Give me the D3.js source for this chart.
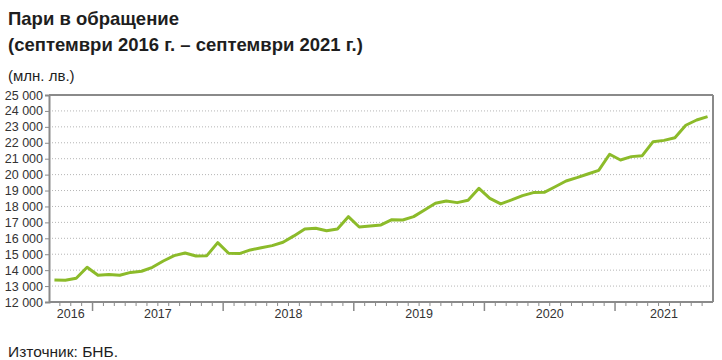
<!DOCTYPE html>
<html lang="bg">
<head>
<meta charset="utf-8">
<script src="https://cdn.jsdelivr.net/npm/d3@7"></script>
<style>
  html, body { margin: 0; padding: 0; background: #fff; }
  svg { display: block; font-family: "Liberation Sans", Arial, sans-serif; }
</style>
</head>
<body>
<svg id="chart" width="722" height="360"></svg>
<script>
// ---- data ----
const months = [
  "2016-09","2016-10","2016-11","2016-12",
  "2017-01","2017-02","2017-03","2017-04","2017-05","2017-06","2017-07","2017-08","2017-09","2017-10","2017-11","2017-12",
  "2018-01","2018-02","2018-03","2018-04","2018-05","2018-06","2018-07","2018-08","2018-09","2018-10","2018-11","2018-12",
  "2019-01","2019-02","2019-03","2019-04","2019-05","2019-06","2019-07","2019-08","2019-09","2019-10","2019-11","2019-12",
  "2020-01","2020-02","2020-03","2020-04","2020-05","2020-06","2020-07","2020-08","2020-09","2020-10","2020-11","2020-12",
  "2021-01","2021-02","2021-03","2021-04","2021-05","2021-06","2021-07","2021-08","2021-09"
];
const currency = [
  13380, 13360, 13490, 14180,
  13680, 13720, 13680, 13860, 13930, 14180, 14575, 14910, 15080, 14890, 14910, 15730,
  15060, 15040, 15270, 15410, 15540, 15750, 16150, 16590, 16630, 16480, 16590, 17360,
  16710, 16770, 16840, 17170, 17150, 17360, 17780, 18200, 18340, 18240, 18390, 19140,
  18510, 18160, 18410, 18680, 18870, 18890, 19240, 19600, 19810, 20040, 20270, 21280,
  20920, 21130, 21190, 22070, 22150, 22320, 23100, 23430, 23640
];
const yearLabels = ["2016", "2017", "2018", "2019", "2020", "2021"];
const yTicks = [12000,13000,14000,15000,16000,17000,18000,19000,20000,21000,22000,23000,24000,25000];
const titleLines = ["Пари в обращение", "(септември 2016 г. – септември 2021 г.)"];
const unitLabel = "(млн. лв.)";
const sourceLabel = "Източник: БНБ.";

// ---- layout ----
const svg = d3.select("#chart");
const L = 49, R = 713, T = 95, B = 302;
const axisColor = "#8a8a8a";
const textColor = "#1e1e1e";

const x = d3.scaleBand().domain(months).range([L, R]).paddingInner(0).paddingOuter(0);
const y = d3.scaleLinear().domain([12000, 25000]).range([B, T]);

// titles
svg.append("text").attr("x", 8).attr("y", 25)
  .attr("font-size", 18.5).attr("font-weight", "bold").attr("fill", textColor)
  .text(titleLines[0]);
svg.append("text").attr("x", 8).attr("y", 51)
  .attr("font-size", 18.5).attr("font-weight", "bold").attr("fill", textColor)
  .text(titleLines[1]);
svg.append("text").attr("x", 8).attr("y", 81)
  .attr("font-size", 15).attr("fill", textColor)
  .text(unitLabel);

// gridlines (dotted)
svg.append("g").selectAll("line")
  .data(yTicks.filter(d => d > 12000 && d < 25000))
  .join("line")
  .attr("x1", L).attr("x2", R)
  .attr("y1", d => y(d)).attr("y2", d => y(d))
  .attr("stroke", "#b5b5b5").attr("stroke-width", 1)
  .attr("stroke-dasharray", "1,2");

// frame top & right
svg.append("line").attr("x1", L).attr("x2", R).attr("y1", T).attr("y2", T)
  .attr("stroke", axisColor).attr("stroke-width", 2);
svg.append("line").attr("x1", R).attr("x2", R).attr("y1", T).attr("y2", B)
  .attr("stroke", axisColor).attr("stroke-width", 2);

// y axis
const yAxis = d3.axisLeft(y).tickValues(yTicks).tickSize(4).tickPadding(2)
  .tickFormat(d => d3.format(",")(d).replace(",", " "));
const gy = svg.append("g").attr("transform", `translate(${L},0)`).call(yAxis);
gy.select(".domain").attr("stroke", axisColor).attr("stroke-width", 2);
gy.selectAll(".tick line").attr("stroke", axisColor).attr("stroke-width", 1);
gy.selectAll(".tick text").attr("font-size", 12.5).attr("fill", "#333")
  .attr("font-family", "'Liberation Sans', Arial, sans-serif");

// x axis: monthly boundary ticks, longer at year boundaries
const gx = svg.append("g");
gx.append("line").attr("x1", L).attr("x2", R).attr("y1", B).attr("y2", B)
  .attr("stroke", axisColor).attr("stroke-width", 2);
gx.selectAll("line.tk")
  .data(months.slice(1))
  .join("line")
  .attr("class", "tk")
  .attr("x1", m => x(m)).attr("x2", m => x(m))
  .attr("y1", B)
  .attr("y2", m => m.endsWith("-01") ? B + 9 : B + 4)
  .attr("stroke", axisColor)
  .attr("stroke-width", m => m.endsWith("-01") ? 1.5 : 1);

// year labels centered under each year's months
gx.selectAll("text.yr")
  .data(yearLabels)
  .join("text")
  .attr("class", "yr")
  .attr("x", yr => {
    const ms = months.filter(m => m.startsWith(yr));
    return (x(ms[0]) + x(ms[ms.length - 1]) + x.bandwidth()) / 2;
  })
  .attr("y", 318)
  .attr("text-anchor", "middle")
  .attr("font-size", 12.5).attr("fill", "#333")
  .text(d => d);

// line
const line = d3.line()
  .x((d, i) => x(months[i]) + x.bandwidth() / 2)
  .y(d => y(d));
svg.append("path")
  .datum(currency)
  .attr("d", line)
  .attr("fill", "none")
  .attr("stroke", "#8cbb2a")
  .attr("stroke-width", 3)
  .attr("stroke-linejoin", "round");

// source
svg.append("text").attr("x", 8).attr("y", 357)
  .attr("font-size", 15.5).attr("fill", textColor)
  .text(sourceLabel);
</script>
</body>
</html>
